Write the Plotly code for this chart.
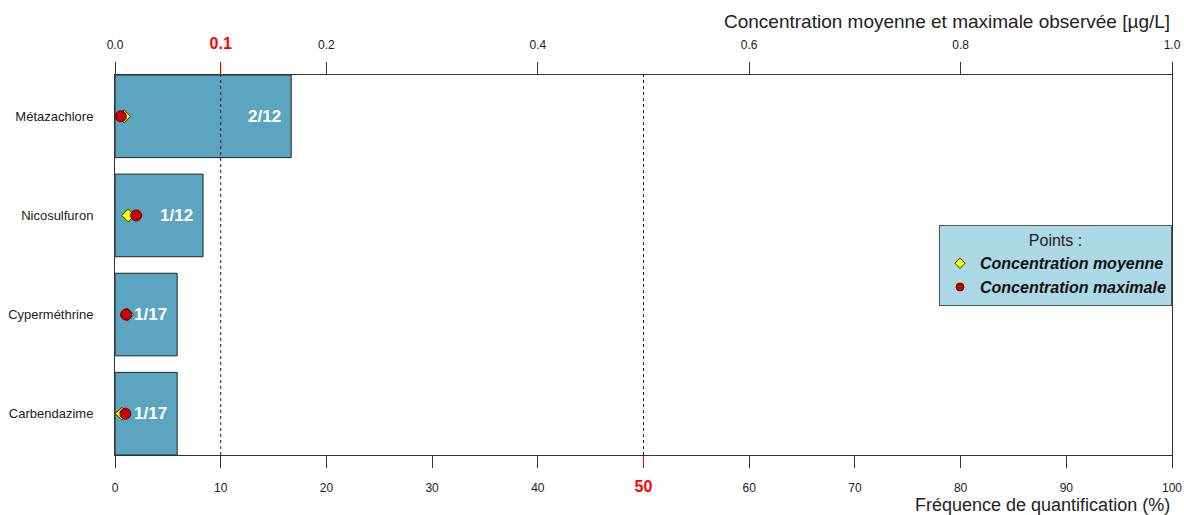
import plotly.graph_objects as go

substances = ["Métazachlore", "Nicosulfuron", "Cyperméthrine", "Carbendazime"]
freq = [16.67, 8.33, 5.88, 5.88]
freq_labels = ["2/12", "1/12", "1/17", "1/17"]
conc_mean = [0.0085, 0.0125, 0.0115, 0.0065]
conc_max = [0.0055, 0.0200, 0.0105, 0.0098]

freq_ticks = [0, 10, 20, 30, 40, 50, 60, 70, 80, 90, 100]
conc_ticks = [0.0, 0.1, 0.2, 0.4, 0.6, 0.8, 1.0]
freq_threshold = 50
conc_threshold = 0.1
freq_ref = 10

FONT = "Liberation Sans, Arial, sans-serif"
BAR_COLOR = "#5BA5C0"
AX = "#333333"
MEAN_MARKER = dict(symbol="diamond", color="#FFFF00", line=dict(color="#333300", width=1))
MAX_MARKER = dict(symbol="circle", color="#CC0000", line=dict(color="#550000", width=1))

fig = go.Figure()
fig.add_trace(go.Bar(
    y=substances, x=freq, orientation="h",
    marker=dict(color=BAR_COLOR, line=dict(color="#222222", width=1)),
    showlegend=False, hoverinfo="skip",
))
fig.add_trace(go.Scatter(
    y=substances, x=conc_mean, xaxis="x2", mode="markers", showlegend=False,
    marker=dict(size=10, **MEAN_MARKER),
))
fig.add_trace(go.Scatter(
    y=substances, x=conc_max, xaxis="x2", mode="markers", showlegend=False,
    marker=dict(size=11, **MAX_MARKER),
))
# legend entries (smaller symbols, as in the reference legend)
fig.add_trace(go.Scatter(
    y=[None], x=[None], xaxis="x2", mode="markers",
    name="<b><i>Concentration moyenne</i></b>",
    marker=dict(size=8, **MEAN_MARKER),
))
fig.add_trace(go.Scatter(
    y=[None], x=[None], xaxis="x2", mode="markers",
    name="<b><i>Concentration maximale</i></b>",
    marker=dict(size=8, **MAX_MARKER),
))

# bar labels
for s, f, lab in zip(substances, freq, freq_labels):
    fig.add_annotation(x=f, y=s, xref="x", yref="y", text=f"<b>{lab}</b>",
                       showarrow=False, xanchor="right", xshift=-8,
                       font=dict(family=FONT, size=17, color="white"))

# vertical dotted lines
for xv in [freq_ref, freq_threshold]:
    fig.add_shape(type="line", xref="x", yref="paper", x0=xv, x1=xv, y0=0, y1=1,
                  line=dict(color="#222222", width=1, dash="dot"), layer="above")

# red ticks
tick_len = 12
fig.add_shape(type="line", xref="x2", yref="paper", x0=conc_threshold, x1=conc_threshold,
              y0=1, y1=1 + tick_len / 380, line=dict(color="red", width=1))
fig.add_shape(type="line", xref="x", yref="paper", x0=freq_threshold, x1=freq_threshold,
              y0=0, y1=-tick_len / 380, line=dict(color="red", width=1))

bottom_text = [f"<span style='color:red;font-size:16px'><b>{v}</b></span>" if v == freq_threshold else str(v)
               for v in freq_ticks]
top_text = [f"<span style='color:red;font-size:16px'><b>{v:.1f}</b></span>" if v == conc_threshold else f"{v:.1f}"
            for v in conc_ticks]

fig.update_layout(
    width=1184, height=515,
    margin=dict(l=115, r=12, t=75, b=60, autoexpand=False),
    paper_bgcolor="white", plot_bgcolor="white",
    font=dict(family=FONT, color="#222222", size=12),
    bargap=1/6,
    xaxis=dict(range=[0, 100], tickvals=freq_ticks, ticktext=bottom_text,
               ticks="outside", ticklen=tick_len, tickcolor=AX, tickwidth=1,
               showline=True, linecolor=AX, linewidth=1, mirror=True,
               showgrid=False, zeroline=False, ticklabelstandoff=10, automargin=False,
               tickfont=dict(size=12, family=FONT, color="#222222")),
    xaxis2=dict(range=[0, 1], overlaying="x", side="top", anchor="y",
                tickvals=conc_ticks, ticktext=top_text, automargin=False,
                ticks="outside", ticklen=tick_len, tickcolor=AX, tickwidth=1,
                showline=False, showgrid=False, zeroline=False, ticklabelstandoff=8,
                tickfont=dict(size=12, family=FONT, color="#222222")),
    yaxis=dict(categoryorder="array", categoryarray=substances, automargin=False,
               range=[3.4167, -0.4167], showline=True, linecolor=AX, linewidth=1,
               mirror=True, ticks="", showgrid=False, zeroline=False,
               ticklabelstandoff=18,
               tickfont=dict(size=13, family=FONT, color="#222222")),
    legend=dict(x=1, xanchor="right", y=0.5, yanchor="middle",
                bgcolor="#ADD8E6", bordercolor="#555555", borderwidth=1,
                title=dict(text="Points :", side="top center",
                           font=dict(size=16, family=FONT, color="#222222")),
                font=dict(size=16, family=FONT, color="#111111"),
                tracegroupgap=0, itemwidth=30),
    showlegend=True,
)

fig.add_annotation(text="Concentration moyenne et maximale observée [µg/L]",
                   xref="paper", yref="paper", x=1, y=1 + 54 / 380,
                   xanchor="right", yanchor="middle", showarrow=False,
                   font=dict(size=19, family=FONT, color="#222222"))
fig.add_annotation(text="Fréquence de quantification (%)",
                   xref="paper", yref="paper", x=1, y=-50 / 380,
                   xanchor="right", yanchor="middle", showarrow=False,
                   font=dict(size=18, family=FONT, color="#222222"))

fig.write_html("out.html")
